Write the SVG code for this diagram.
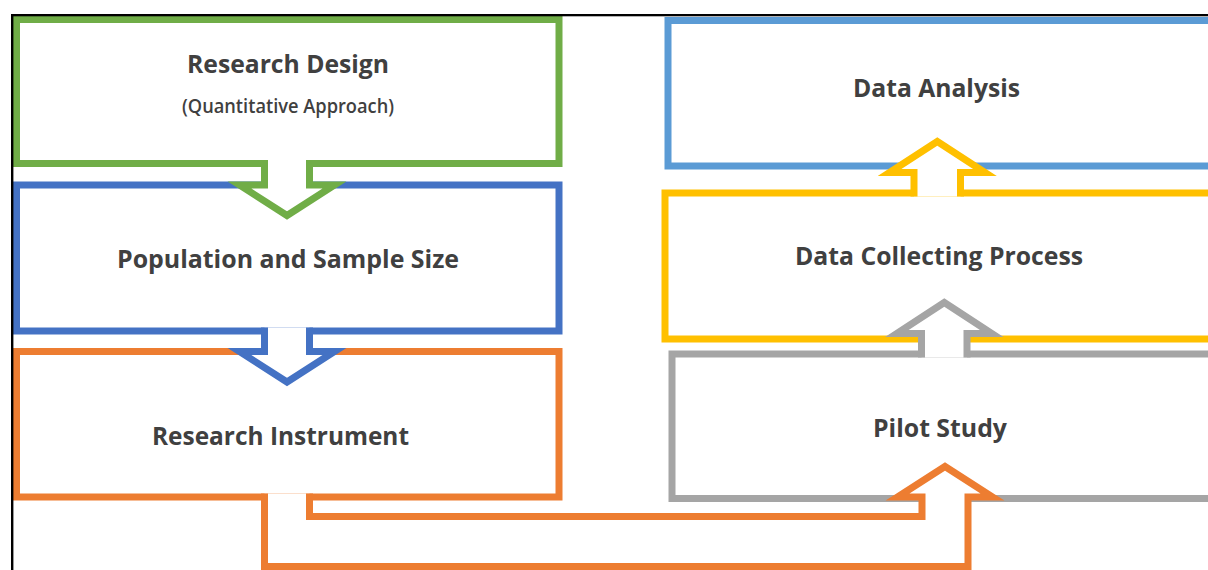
<svg xmlns="http://www.w3.org/2000/svg" width="1208" height="570" viewBox="0 0 1208 570">
<style>
.box{fill:#fff;stroke-width:7;stroke-linejoin:miter}
.cf{stroke:none;fill:#fff}
.cs{fill:none;stroke-width:7;stroke-linejoin:miter;stroke-miterlimit:10}
.t{font-family:"Open Sans","Lato","Liberation Sans",sans-serif;font-weight:700;font-size:25px;fill:#404040;text-anchor:middle}
.s{font-family:"Open Sans","Lato","Liberation Sans",sans-serif;font-weight:600;font-size:19px;fill:#404040;text-anchor:middle}
</style>
<rect width="1208" height="570" fill="#fff"/>
<g id="node-data-analysis">
<rect class="box" x="668" y="20.5" width="560" height="145.5" stroke="#5B9BD5"/>
<text class="t" x="936.5" y="97" textLength="167" lengthAdjust="spacingAndGlyphs">Data Analysis</text>
</g>
<g id="node-data-collecting">
<rect class="box" x="665" y="193" width="560" height="146" stroke="#FFC000"/>
<text class="t" x="939" y="265" textLength="288" lengthAdjust="spacingAndGlyphs">Data Collecting Process</text>
</g>
<g id="node-pilot-study">
<rect class="box" x="672" y="354" width="560" height="144.5" stroke="#A5A5A5"/>
<text class="t" x="940" y="437" textLength="134" lengthAdjust="spacingAndGlyphs">Pilot Study</text>
</g>
<g id="node-research-instrument">
<rect class="box" x="16.5" y="351.5" width="542.5" height="145.5" stroke="#ED7D31"/>
<text class="t" x="280.5" y="445" textLength="257" lengthAdjust="spacingAndGlyphs">Research Instrument</text>
</g>
<g id="node-population">
<rect class="box" x="16.5" y="185" width="542.5" height="146" stroke="#4472C4"/>
<text class="t" x="288" y="268" textLength="342" lengthAdjust="spacingAndGlyphs">Population and Sample Size</text>
</g>
<g id="node-research-design">
<rect class="box" x="16.5" y="19.5" width="542.5" height="144" stroke="#70AD47"/>
<text class="t" x="288" y="73" textLength="202" lengthAdjust="spacingAndGlyphs">Research Design</text>
<text class="s" x="288" y="113" textLength="212" lengthAdjust="spacingAndGlyphs">(Quantitative Approach)</text>
</g>
<g id="connectors">
<path class="cf" d="M264.5,160 V185 H239.5 L287,215.5 L334.5,185 H309.5 V160 Z"/>
<path class="cs" stroke="#70AD47" d="M264.5,160 V185 H239.5 L287,215.5 L334.5,185 H309.5 V160"/>
<path class="cf" d="M264.5,327.5 V351.5 H239.5 L287,382 L334.5,351.5 H309.5 V327.5 Z"/>
<path class="cs" stroke="#4472C4" d="M264.5,327.5 V351.5 H239.5 L287,382 L334.5,351.5 H309.5 V327.5"/>
<path class="cf" d="M914,196.5 V172.5 H889.5 L937.3,141.5 L985,172.5 H960.5 V196.5 Z"/>
<path class="cs" stroke="#FFC000" d="M914,196.5 V172.5 H889.5 L937.3,141.5 L985,172.5 H960.5 V196.5"/>
<path class="cf" d="M921.5,357.5 V333.5 H896.8 L944.3,302.5 L991.8,333.5 H967 V357.5 Z"/>
<path class="cs" stroke="#A5A5A5" d="M921.5,357.5 V333.5 H896.8 L944.3,302.5 L991.8,333.5 H967 V357.5"/>
<path class="cf" d="M264.5,493.5 V566.5 H968 V497 H992.5 L945,466.5 L897.5,497 H922 V516.5 H309.5 V493.5 Z"/>
<path class="cs" stroke="#ED7D31" d="M264.5,493.5 V566.5 H968 V497 H992.5 L945,466.5 L897.5,497 H922 V516.5 H309.5 V493.5"/>
</g>
<g id="frame">
<rect x="11" y="14" width="1197" height="2.3" fill="#000"/>
<rect x="11" y="14" width="2.4" height="556" fill="#000"/>
</g>
</svg>
